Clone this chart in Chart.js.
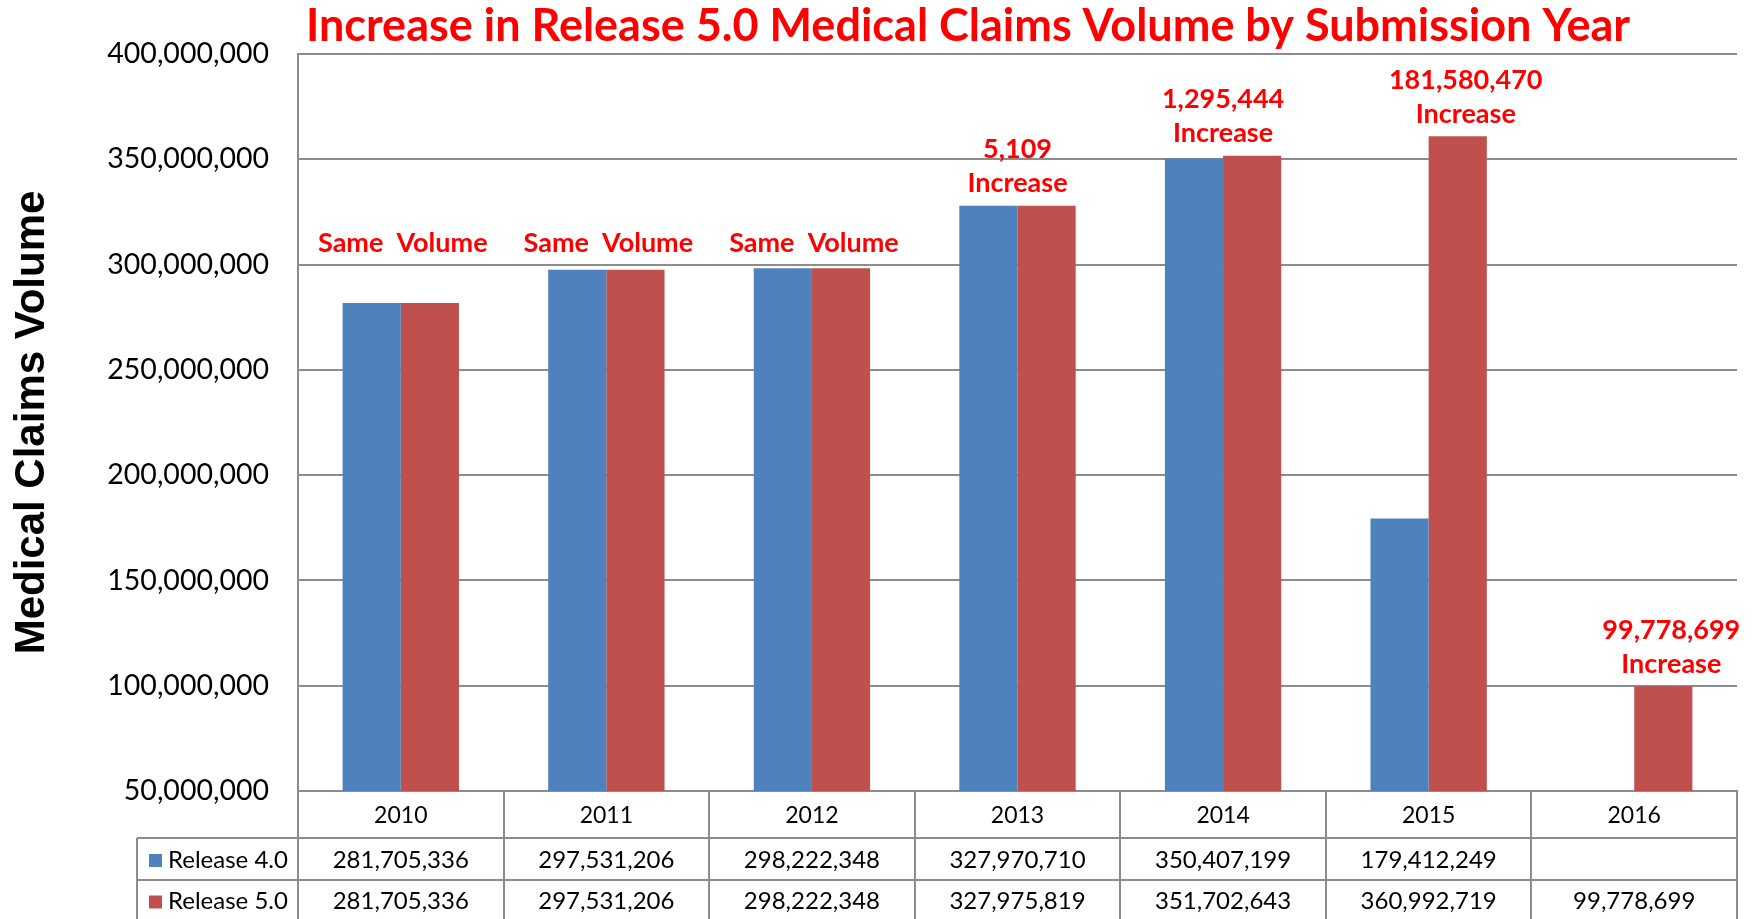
<!DOCTYPE html>
<html>
<head>
<meta charset="utf-8">
<script src="https://cdn.jsdelivr.net/npm/chart.js@4.4.1/dist/chart.umd.min.js"></script>
<style>
  html, body { margin: 0; padding: 0; background: #fff; }
  canvas { display: block; }
</style>
</head>
<body>
<canvas id="claims-chart" width="1756" height="919"></canvas>
<script>
// Chart data
const chartTitle = 'Increase in Release 5.0 Medical Claims Volume by Submission Year';
const categories = ['2010', '2011', '2012', '2013', '2014', '2015', '2016'];
const seriesNames = ['Release 4.0', 'Release 5.0'];
const release4 = [281705336, 297531206, 298222348, 327970710, 350407199, 179412249, null];
const release5 = [281705336, 297531206, 298222348, 327975819, 351702643, 360992719, 99778699];
const yTicks = [50000000, 100000000, 150000000, 200000000, 250000000, 300000000, 350000000, 400000000];

const BLUE = '#4F81BD';
const RED = '#C0504D';
const GRID = '#8c8c8c';
const fmt = v => v.toLocaleString('en-US');

// Draws the main title and the red increase notes above the bars
const notesPlugin = {
    id: 'notes',
    afterDatasetsDraw(chart) {
        const ctx = chart.ctx;
        const meta5 = chart.getDatasetMeta(1);
        const xScale = chart.scales.x;

        ctx.save();
        ctx.fillStyle = '#ff0000';
        ctx.textAlign = 'center';
        ctx.textBaseline = 'middle';

        ctx.font = 'bold 45px Lato';
        ctx.fillText(chartTitle, 968, 26);

        // "Same Volume" notes share one level
        let sameTop = Infinity;
        release5.forEach((v, i) => {
            if (v - (release4[i] || 0) === 0) sameTop = Math.min(sameTop, meta5.data[i].y);
        });

        ctx.font = 'bold 27px Lato';
        release5.forEach((v, i) => {
            const diff = v - (release4[i] || 0);
            const bar = meta5.data[i];
            if (diff === 0) {
                ctx.fillText('Same  Volume', xScale.getPixelForValue(i) + 2, sameTop - 25);
                return;
            }
            const big = release4[i] === null || diff > 10000000;
            const cx = big ? bar.x + 8 : xScale.getPixelForValue(i);
            ctx.fillText('Increase', cx, bar.y - 22);
            ctx.fillText(fmt(diff), cx, bar.y - 56);
        });
        ctx.restore();
    }
};

// Draws the data table under the x axis
const tablePlugin = {
    id: 'dataTable',
    afterDraw(chart) {
        const ctx = chart.ctx;
        const area = chart.chartArea;
        const xScale = chart.scales.x;
        const bottom = chart.height;
        const row1 = area.bottom + 47;
        const row2 = row1 + 42;
        const legendLeft = 137;
        const colW = (area.right - area.left) / categories.length;

        ctx.save();
        ctx.strokeStyle = GRID;
        ctx.lineWidth = 2;
        ctx.beginPath();
        [row1, row2].forEach(y => {
            ctx.moveTo(legendLeft, y);
            ctx.lineTo(area.right, y);
        });
        for (let k = 0; k <= categories.length; k++) {
            const x = Math.round(area.left + k * colW);
            ctx.moveTo(x, area.bottom);
            ctx.lineTo(x, bottom);
        }
        ctx.moveTo(legendLeft, row1);
        ctx.lineTo(legendLeft, bottom);
        ctx.stroke();

        ctx.font = '24px Lato';
        ctx.fillStyle = '#000';
        ctx.textBaseline = 'middle';
        const rows = [release4, release5];
        const colors = [BLUE, RED];
        rows.forEach((vals, r) => {
            const cy = (r === 0 ? (row1 + row2) / 2 + 1 : (row2 + bottom) / 2 + 2);
            ctx.fillStyle = colors[r];
            ctx.fillRect(legendLeft + 12, cy - 6, 13, 13);
            ctx.fillStyle = '#000';
            ctx.textAlign = 'left';
            ctx.fillText(seriesNames[r], legendLeft + 31, cy);
            ctx.textAlign = 'center';
            vals.forEach((v, i) => {
                if (v !== null) ctx.fillText(fmt(v), xScale.getPixelForValue(i), cy);
            });
        });
        ctx.restore();
    }
};

const ctx = document.getElementById('claims-chart').getContext('2d');
new Chart(ctx, {
    type: 'bar',
    data: {
        labels: categories,
        datasets: [
            { label: seriesNames[0], data: release4, backgroundColor: BLUE },
            { label: seriesNames[1], data: release5, backgroundColor: RED }
        ]
    },
    options: {
        responsive: false,
        animation: false,
        devicePixelRatio: 1,
        categoryPercentage: 0.566,
        barPercentage: 1.0,
        layout: { padding: { top: 54, right: 19, left: 0, bottom: 0 } },
        plugins: {
            legend: { display: false },
            title: { display: false },
            tooltip: { enabled: false }
        },
        scales: {
            x: {
                grid: { display: false },
                border: { display: true, color: GRID, width: 2 },
                ticks: { color: '#000', font: { family: 'Lato', size: 23 }, padding: 3 },
                afterFit: s => { s.height = 128; }
            },
            y: {
                min: yTicks[0],
                max: yTicks[yTicks.length - 1],
                afterBuildTicks: s => { s.ticks = yTicks.map(v => ({ value: v })); },
                ticks: {
                    color: '#000',
                    font: { family: 'Lato', size: 28.5 },
                    padding: 29,
                    callback: v => fmt(v)
                },
                grid: { color: GRID, lineWidth: 2, drawTicks: false },
                border: { color: GRID, width: 2 },
                title: {
                    display: true,
                    text: 'Medical Claims Volume',
                    color: '#000',
                    font: { family: 'Liberation Sans', size: 42, weight: 'bold' },
                    padding: { top: 7, bottom: 0 }
                },
                afterFit: s => { s.width = 298; }
            }
        }
    },
    plugins: [notesPlugin, tablePlugin]
});
</script>
</body>
</html>
